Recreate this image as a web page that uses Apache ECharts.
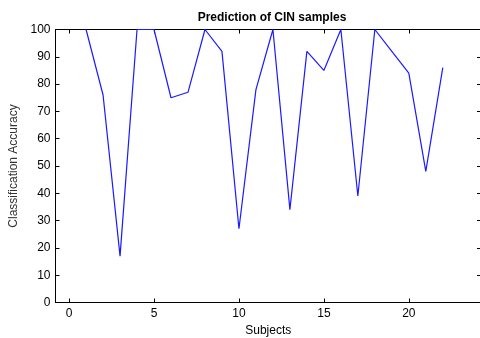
<!DOCTYPE html>
<html>
<head>
<meta charset="utf-8">
<script src="https://cdn.jsdelivr.net/npm/echarts@6/dist/echarts.min.js"></script>
<style>html,body{margin:0;padding:0;background:#fff}#c{width:480px;height:338px}</style>
</head>
<body>
<div id="c"></div>
<script>
var subjects = [1,2,3,4,5,6,7,8,9,10,11,12,13,14,15,16,17,18,19,20,21,22];
var accuracy = [100,76,17,100,100,75,77,100,92,27,78,100,34,92,85,100,39,100,92,84,48,86];
var xTicks = [0,5,10,15,20];
var yTicks = [0,10,20,30,40,50,60,70,80,90,100];
var titleText = 'Prediction of CIN samples';
var xName = 'Subjects';
var yName = 'Classification Accuracy';

var chart = echarts.init(document.getElementById('c'), null, {renderer:'canvas'});
var font = 'Liberation Sans, Arial, sans-serif';
var axisLine = {show:true, onZero:false, lineStyle:{color:'#000', width:1}};
chart.setOption({
  animation:false,
  backgroundColor:'#fff',
  title:{text:titleText, left:267, top:7, textAlign:'center',
    textStyle:{fontFamily:font, fontSize:12, fontWeight:'bold', color:'#000'}},
  grid:{left:55.5, top:29.5, right:-1, bottom:35.5, containLabel:false, outerBoundsMode:'none'},
  xAxis:[{
    type:'value', min:-0.8, max:24.25, position:'bottom',
    name:xName, nameLocation:'middle', nameGap:19,
    nameTextStyle:{fontFamily:font, fontSize:12, color:'#000'},
    axisLine:axisLine,
    axisTick:{show:true, inside:true, length:4, customValues:xTicks, lineStyle:{color:'#000'}},
    axisLabel:{show:true, customValues:xTicks, margin:5, fontFamily:font, fontSize:12, color:'#000'},
    splitLine:{show:false}
  },{
    type:'value', min:-0.8, max:24.25, position:'top',
    axisLine:axisLine,
    axisTick:{show:true, inside:true, length:4, customValues:xTicks, lineStyle:{color:'#000'}},
    axisLabel:{show:false},
    splitLine:{show:false}
  }],
  yAxis:[{
    type:'value', min:0, max:100, interval:10, position:'left',
    name:yName, nameLocation:'middle', nameGap:32, nameRotate:90,
    nameTextStyle:{fontFamily:font, fontSize:12, color:'#333'},
    axisLine:axisLine,
    axisTick:{show:true, inside:true, length:4, lineStyle:{color:'#000'}},
    axisLabel:{show:true, margin:5, fontFamily:font, fontSize:12, color:'#000'},
    splitLine:{show:false}
  },{
    type:'value', min:0, max:100, interval:10, position:'right',
    axisLine:axisLine,
    axisTick:{show:true, inside:true, length:4, lineStyle:{color:'#000'}},
    axisLabel:{show:false},
    splitLine:{show:false}
  }],
  series:[{
    type:'line', xAxisIndex:0, yAxisIndex:0,
    data:subjects.map(function(s,i){return [s, accuracy[i]];}),
    showSymbol:false, symbol:'none',
    lineStyle:{color:'#1a1aff', width:1.2},
    clip:true
  }]
});
</script>
</body>
</html>
